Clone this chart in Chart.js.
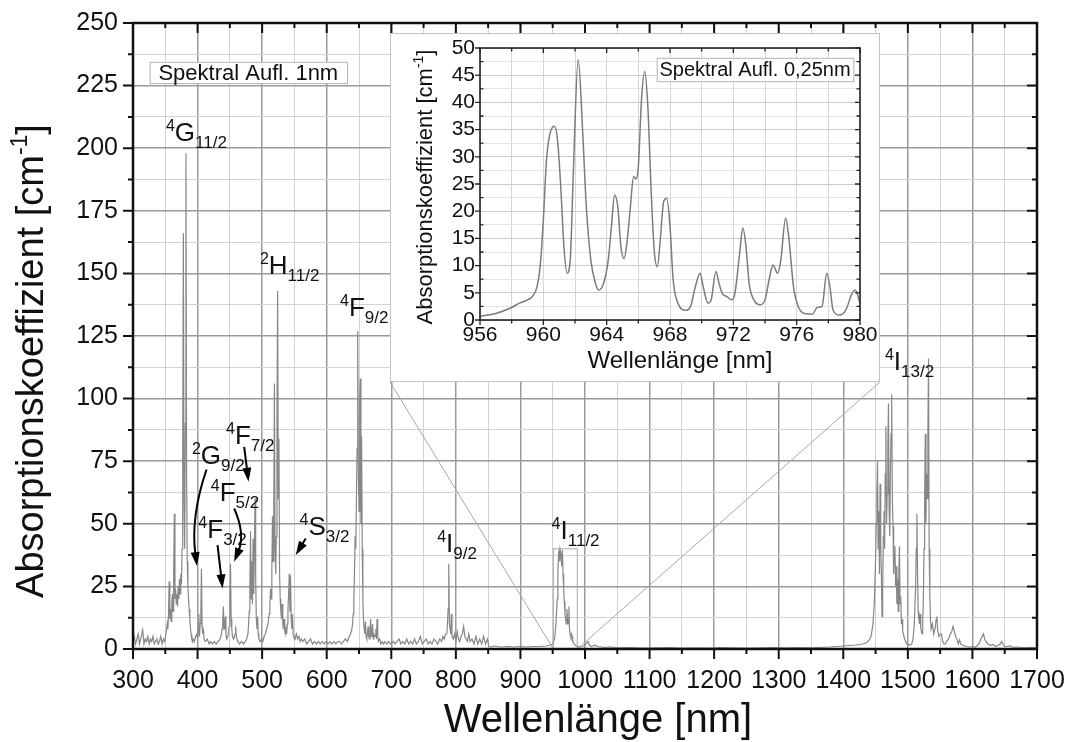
<!DOCTYPE html>
<html>
<head>
<meta charset="utf-8">
<script src="https://cdn.jsdelivr.net/npm/chart.js@4.4.0/dist/chart.umd.min.js"></script>
<style>
  html, body { margin: 0; padding: 0; background: #fff; }
  #wrap { position: relative; width: 1076px; height: 742px; }
  #main { position: absolute; left: 0; top: 0; }
  #insetBox { position: absolute; left: 390px; top: 33px; width: 490px; height: 349px;
              box-sizing: border-box; border: 1px solid #c4c4c4; background: #fff; }
  #inset { display: block; }
</style>
</head>
<body>
<div id="wrap">
  <canvas id="main" width="1076" height="742"></canvas>
  <div id="insetBox"><canvas id="inset" width="488" height="347"></canvas></div>
</div>
<script>
// spectrum at 1 nm resolution, split by region
const uvWl = [300,302,304,306,308,310,312,315,317,319,
  321,323,325,327,329,331,333,335,337,339,
  341,343,345,347,349,351,353,354,355,356,
  357,358,359,360,361,362,363,364,365,366,
  367,368,369,370,371,372,373,374,375,376,
  377,378,379,380,381,382,383,384,385,386,
  387,388,389,390,391,392,393,395,397,399];
const uvAbs = [3,5,2,4,6,2,4,7.6,2,4,
  3,5,2,4,3,5,2,3,4,2,
  3,5,2,4,3,6,10,8,14,27,
  12,16,11,18,22,15,30,54,20,24,
  18,22,17,25,20,28,22,30,26,40,
  80,166,60,40,90,198,70,35,25,20,
  16,12,8,6,4,3,4,3,5,6];

const visWl = [400,401,402,403,404,405,406,407,408,409,
  410,412,415,418,420,423,426,429,432,435,
  437,438,439,440,441,442,443,444,445,447,
  449,450,451,452,453,454,456,458,459,460,
  462,465,468,471,474,476,478,479,480,481,
  482,483,484,485,486,487,488,489,490,491,
  492,493,494,495,497,499,501,503,505,507,
  509,511,512,513,514,515,516,517,518,519,
  520,521,522,523,524,525,526,527,528,529,
  530,531,532,533,534,535,536,537,538,539,
  540,541,542,543,544,545,546,547,548,549,
  551,553,555,557,559,561,563,566,569,572,
  575,578,581,584,587,590,593,596,599,602,
  605,608,611,614,617,620,623,626,629,632,
  635,637,639,640,641,642,643,644,645,646,
  647,648,649,650,651,652,653,654,655,656,
  657,658,659,660,661,662,663,664,665,666,
  667,668,669,670,671,672,673,675,676,677,
  678,679,680,682,684,686,688,690,693,696];
const visAbs = [4,8,14,5,10,12,32,9,6,8,
  4,3,4,2,3,2,3,2,3,4,
  6,8,12,17,8,10,13,6,4,5,
  9,20,34,12,8,5,4,6,9,5,
  3,2,3,2,3,4,6,10,15,25,
  47,20,35,18,44,22,40,60,28,12,
  8,13,6,4,3,4,3,5,6,8,
  10,14,18,24,20,30,53,35,55,106,
  40,30,45,90,143,60,84,30,20,15,
  12,18,10,8,12,7,6,8,6,10,
  16,22,30,15,29,12,8,14,6,5,
  4,6,4,5,3,4,3,4,2,3,
  4,2,3,2,3,2,3,2,3,2,
  3,2,3,2,3,3,2,3,4,3,
  5,6,8,10,14,20,30,45,40,60,
  80,127,70,55,100,108,50,85,40,20,
  12,8,6,11,5,4,6,9,5,4,
  7,12,5,6,10,4,6,5,8,4,
  12,5,3,4,2,3,2,3,2,3];

const nirWl = [699,703,706,709,712,715,718,721,724,727,
  730,733,736,739,742,745,748,751,754,757,
  760,763,766,769,772,775,778,780,782,784,
  786,787,788,789,790,791,792,793,794,796,
  798,800,802,804,806,808,810,812,814,816,
  818,820,822,825,828,831,834,837,840,843,
  846,849,851,855,860,870,880,890,900,910,
  920,930,940,945,950,953,955,957,958,959,
  960,961,962,963,964,965,966,967,968,969,
  970,971,972,973,974,975,976,977,978,979,
  980,981,983,985,988,992,996,1000,1003,1005,
  1007,1010,1015,1020,1030,1040,1050,1070,1090,1110,
  1130,1150,1170,1190,1210,1230,1250,1270,1290,1310,
  1330,1350,1370,1380,1390];
const nirAbs = [2,3,2,3,4,2,3,2,4,2,
  3,2,4,2,3,5,2,3,4,2,
  3,2,4,3,2,4,3,5,4,6,
  6,10,16,34,10,8,6,14,5,4,
  6,3,7,4,3,5,6,9,5,4,
  3,6,3,4,2,5,2,4,2,5,
  2,4,1,0.8,1.2,0.8,1,0.8,1,0.8,
  1,1,1.2,1.5,2,4,10,20,30,38,
  39.5,35,39,37.5,33,39.5,30,24,19,14,
  12,10,16,12,10,17,8,6,5,6,
  5,3,2,1.5,1,0.8,1,1.5,2.5,3,
  1.5,1,1.5,1,0.6,0.8,0.5,0.6,0.4,0.5,
  0.6,0.4,0.5,0.4,0.6,0.5,0.4,0.5,0.6,0.5,
  0.6,0.5,0.7,0.8,1];

const irWl = [1400,1410,1420,1425,1430,1436,1440,1443,1446,1448,
  1450,1451,1452,1453,1454,1455,1456,1457,1458,1459,
  1460,1461,1462,1463,1464,1465,1466,1467,1468,1469,
  1470,1471,1472,1473,1474,1475,1476,1477,1478,1479,
  1480,1481,1482,1483,1484,1485,1486,1487,1488,1489,
  1490,1491,1492,1493,1495,1498,1500,1503,1506,1508,
  1510,1512,1513,1514,1515,1516,1517,1518,1519,1520,
  1522,1523,1524,1525,1526,1527,1528,1529,1530,1531,
  1532,1533,1534,1535,1536,1538,1540,1542,1544,1545,
  1546,1548,1550,1552,1554,1556,1558,1560,1563,1566,
  1568,1570,1572,1574,1576,1578,1580,1582,1585,1590,
  1595,1600,1605,1610,1613,1615,1617,1619,1621,1624,
  1628,1632,1636,1640,1643,1645,1647,1650,1655,1658,
  1662,1670,1680,1690,1700];
const irAbs = [1.2,1.4,1.6,1.8,2,2.5,3.6,5,10,18,
  35,50,62,75,40,55,30,66,42,30,
  13,22,45,55,40,70,89,50,62,80,
  98,56,45,72,86,101.6,60,49,30,38,
  41,25,33,18,28,15,30,41,18,21,
  10,12,7,6,4,2,2,1.5,2,4,
  10,25,40,54,30,15,12,10,14,8,
  6,10,20,40,60,86,50,70,60,85,
  116,40,22,12,8,10,6,8,12,13,
  8,5,6,6,3,2,2,3,4,6,
  7,9,7,5,4,2,3.6,2,1.5,1,
  0.8,1,0.8,2,4,5,6,4,3,2,
  1.5,1.8,1,1.5,2,3,2,1,1,1.3,
  0.7,0.8,0.5,0.7,0.5];

// 4I11/2 band at 0.25 nm resolution (inset)
const insetWl = [956,957,958,958.5,959,959.3,959.6,959.8,960,960.2,
  960.4,960.7,960.9,961.1,961.3,961.5,961.7,961.9,962.2,962.5,
  962.7,963,963.3,963.5,963.8,964.1,964.3,964.5,964.7,964.9,
  965.1,965.3,965.5,965.7,965.85,966,966.2,966.4,966.6,966.8,
  967,967.2,967.4,967.6,967.8,968,968.2,968.5,969,969.3,
  969.6,969.9,970.1,970.4,970.6,970.9,971.1,971.3,971.6,971.9,
  972.1,972.4,972.6,972.8,973,973.3,973.7,974,974.3,974.5,
  974.8,975,975.3,975.5,975.8,976.1,976.5,977,977.3,977.6,
  977.9,978.1,978.3,978.7,979.1,979.5,979.7,980];
const insetAbs = [0.7,1.2,2.3,3.1,3.7,4.3,6.1,9.8,18.4,29.4,
  34,35.6,33,24.5,13.5,8.6,11,27.6,47.9,33.7,
  21.5,11,6.7,5.5,6.7,11,17.2,23,20.9,13.5,
  11.3,14.7,20.9,26.4,25.9,28.2,40.5,45.7,39.3,24.5,
  12.9,9.8,15.3,21.8,22.4,17.2,7.4,3.1,1.8,2.5,
  6.1,8.6,6.1,3.1,3.7,8.9,6.7,4.9,4.3,3.7,
  4.9,12.3,16.9,13.5,6.7,3.7,2.8,3.7,8,10.1,
  8.6,11,18.7,15.3,6.1,2.5,1.2,1.1,2.3,2.5,
  8.6,6.1,1.8,0.9,1.8,4.9,5.5,3.1];

const mainWl = [...uvWl, ...visWl, ...nirWl, ...irWl];
const mainAbs = [...uvAbs, ...visAbs, ...nirAbs, ...irAbs];

const FONT = '"Liberation Sans", Arial, Helvetica, sans-serif';

// term labels: sup, letter, sub, anchored at (nm, value) = left end / baseline
const terms = [
  ['4', 'G', '11/2', 351, 203],
  ['2', 'H', '11/2', 496.6, 149.7],
  ['4', 'F', '9/2', 620.7, 133],
  ['4', 'F', '7/2', 444, 82],
  ['2', 'G', '9/2', 391.2, 74],
  ['4', 'F', '5/2', 420.5, 59.3],
  ['4', 'F', '3/2', 401.2, 44.2],
  ['4', 'S', '3/2', 558, 45.5],
  ['4', 'I', '9/2', 771, 38.8],
  ['4', 'I', '11/2', 948.3, 44],
  ['4', 'I', '13/2', 1464.5, 111.6]
];
// arrows: start, control (or null), tip, in (nm, value)
const arrows = [
  [[413.9, 71.7], [389, 53], [399, 33.1]],
  [[472.2, 80.7], null, [478.9, 66.8]],
  [[456.7, 56.1], [474, 46], [456.7, 34.8]],
  [[430.9, 41.5], null, [438.7, 24.2]],
  [[567.5, 44.1], null, [552, 37.5]]
];

function drawFrame(chart, o) {
  const {ctx, chartArea: a, scales: {x, y}} = chart;
  ctx.save();
  ctx.strokeStyle = o.color;
  ctx.lineWidth = o.tickWidth;
  ctx.beginPath();
  x.ticks.forEach(t => {
    const p = x.getPixelForValue(t.value);
    const major = Math.abs(t.value % o.xMajor) < 1e-6;
    const len = major ? o.major : o.minor;
    ctx.moveTo(p, a.bottom); ctx.lineTo(p, a.bottom + len);
    ctx.moveTo(p, a.top); ctx.lineTo(p, a.top + len);
  });
  y.ticks.forEach(t => {
    const p = y.getPixelForValue(t.value);
    const major = Math.abs(t.value % o.yMajor) < 1e-6;
    const len = major ? o.major : o.minor;
    const dir = major ? o.leftMajorDir : o.leftMinorDir;
    ctx.moveTo(a.left, p); ctx.lineTo(a.left - dir * len, p);
    ctx.moveTo(a.right, p); ctx.lineTo(a.right - len, p);
  });
  ctx.stroke();
  ctx.lineWidth = o.frameWidth;
  ctx.strokeRect(a.left, a.top, a.right - a.left, a.bottom - a.top);
  ctx.restore();
}

function drawVerticalTitle(ctx, cx, cy, main, sup, size, supSize, rise) {
  ctx.save();
  ctx.translate(cx, cy);
  ctx.rotate(-Math.PI / 2);
  ctx.fillStyle = '#111';
  ctx.textBaseline = 'alphabetic';
  ctx.textAlign = 'left';
  ctx.font = size + 'px ' + FONT;
  const w1 = ctx.measureText(main).width;
  const w3 = ctx.measureText(']').width;
  ctx.font = supSize + 'px ' + FONT;
  const w2 = ctx.measureText(sup).width;
  let s = -(w1 + w2 + w3) / 2;
  ctx.font = size + 'px ' + FONT;
  ctx.fillText(main, s, 0);
  ctx.font = supSize + 'px ' + FONT;
  ctx.fillText(sup, s + w1, -rise);
  ctx.font = size + 'px ' + FONT;
  ctx.fillText(']', s + w1 + w2, 0);
  ctx.restore();
}

function drawLegendBox(ctx, x, y, x0, x1, y0, y1, text, size) {
  const l = x.getPixelForValue(x0), r = x.getPixelForValue(x1);
  const t = y.getPixelForValue(y1), b = y.getPixelForValue(y0);
  ctx.save();
  ctx.fillStyle = '#fff';
  ctx.fillRect(l, t, r - l, b - t);
  ctx.strokeStyle = '#b4b4b4';
  ctx.lineWidth = 1;
  ctx.strokeRect(l + 0.5, t + 0.5, r - l, b - t);
  ctx.fillStyle = '#111';
  ctx.font = size + 'px ' + FONT;
  ctx.textAlign = 'center';
  ctx.textBaseline = 'middle';
  ctx.fillText(text, (l + r) / 2, (t + b) / 2 + 1);
  ctx.restore();
}

// keep the plot area fixed: ignore label overhang at the ends of the axes
function fixHorizontal(height) {
  return s => { s.height = height; s.paddingLeft = 0; s.paddingRight = 0; };
}
function fixVertical(width) {
  return s => { s.width = width; s.paddingTop = 0; s.paddingBottom = 0; };
}

const mainDecor = {
  id: 'mainDecor',
  afterDatasetsDraw(chart) {
    const {ctx, scales: {x, y}} = chart;
    // zoom box round the 4I11/2 band and the lines to the inset
    const bl = x.getPixelForValue(951), br = x.getPixelForValue(988);
    const bt = y.getPixelForValue(40), bb = y.getPixelForValue(0);
    ctx.save();
    ctx.strokeStyle = '#a8a8a8';
    ctx.lineWidth = 1;
    ctx.strokeRect(bl, bt, br - bl, bb - bt);
    ctx.beginPath();
    ctx.moveTo(bl, bb); ctx.lineTo(390, 382);
    ctx.moveTo(br, bb); ctx.lineTo(880, 382);
    ctx.stroke();
    ctx.restore();
    drawFrame(chart, {color: '#111', tickWidth: 2, frameWidth: 2.5, major: 10, minor: 5,
      xMajor: 100, yMajor: 25, leftMajorDir: 1, leftMinorDir: 1});
  },
  afterDraw(chart) {
    const {ctx, scales: {x, y}} = chart;
    ctx.save();
    ctx.fillStyle = '#111';
    ctx.textAlign = 'left';
    ctx.textBaseline = 'alphabetic';
    terms.forEach(([sup, main, sub, nm, v]) => {
      let px = x.getPixelForValue(nm);
      const py = y.getPixelForValue(v);
      ctx.font = '16px ' + FONT;
      ctx.fillText(sup, px, py - 10);
      px += ctx.measureText(sup).width;
      ctx.font = '26px ' + FONT;
      ctx.fillText(main, px, py);
      px += ctx.measureText(main).width;
      ctx.font = '17px ' + FONT;
      ctx.fillText(sub, px, py + 7);
    });
    ctx.strokeStyle = '#000';
    ctx.fillStyle = '#000';
    ctx.lineWidth = 2;
    arrows.forEach(([s, c, e]) => {
      const p0 = {x: x.getPixelForValue(s[0]), y: y.getPixelForValue(s[1])};
      const p1 = {x: x.getPixelForValue(e[0]), y: y.getPixelForValue(e[1])};
      const pc = c ? {x: x.getPixelForValue(c[0]), y: y.getPixelForValue(c[1])} : p0;
      const ang = Math.atan2(p1.y - pc.y, p1.x - pc.x);
      const head = 14, half = 4.5;
      const ex = p1.x - Math.cos(ang) * (head - 2), ey = p1.y - Math.sin(ang) * (head - 2);
      ctx.beginPath();
      ctx.moveTo(p0.x, p0.y);
      if (c) ctx.quadraticCurveTo(pc.x, pc.y, ex, ey); else ctx.lineTo(ex, ey);
      ctx.stroke();
      const bx = p1.x - Math.cos(ang) * head, by = p1.y - Math.sin(ang) * head;
      ctx.beginPath();
      ctx.moveTo(p1.x, p1.y);
      ctx.lineTo(bx + Math.sin(ang) * half, by - Math.cos(ang) * half);
      ctx.lineTo(bx - Math.sin(ang) * half, by + Math.cos(ang) * half);
      ctx.closePath();
      ctx.fill();
    });
    ctx.restore();
    drawLegendBox(ctx, x, y, 325.8, 631.4, 226, 234.5, 'Spektral Aufl. 1nm', 22);
    // axis titles
    ctx.save();
    ctx.fillStyle = '#111';
    ctx.font = '40px ' + FONT;
    ctx.textAlign = 'center';
    ctx.textBaseline = 'alphabetic';
    ctx.fillText('Wellenlänge [nm]', 598, 732);
    ctx.restore();
    drawVerticalTitle(ctx, 43, 361, 'Absorptionskoeffizient [cm', '-1', 38, 23, 16);
  }
};

new Chart('main', {
  type: 'line',
  data: {
    datasets: [{
      data: mainWl.map((w, i) => ({x: w, y: mainAbs[i]})),
      borderColor: '#878787',
      borderWidth: 1.2,
      pointRadius: 0,
      tension: 0
    }]
  },
  options: {
    responsive: false,
    animation: false,
    devicePixelRatio: 1,
    layout: {padding: {top: 23, right: 39, left: 0, bottom: 0}},
    plugins: {legend: {display: false}, tooltip: {enabled: false}},
    scales: {
      x: {
        type: 'linear', min: 300, max: 1700,
        ticks: {stepSize: 50, autoSkip: false, maxRotation: 0, padding: 17, color: '#111',
          font: {size: 25, family: FONT},
          callback: v => (v % 100 === 0 ? v : '')},
        grid: {drawTicks: false,
          color: c => (c.tick && c.tick.value % 100 === 0 ? '#9a9a9a' : '#d2d2d2'),
          lineWidth: c => (c.tick && c.tick.value % 100 === 0 ? 1.5 : 1)},
        border: {display: false},
        afterFit: fixHorizontal(93)
      },
      y: {
        min: 0, max: 250,
        ticks: {stepSize: 12.5, autoSkip: false, padding: 15, color: '#111', font: {size: 25, family: FONT},
          callback: v => (v % 25 === 0 ? v : '')},
        grid: {drawTicks: false,
          color: c => (c.tick && c.tick.value % 25 === 0 ? '#9a9a9a' : '#d2d2d2'),
          lineWidth: c => (c.tick && c.tick.value % 25 === 0 ? 1.5 : 1)},
        border: {display: false},
        afterFit: fixVertical(133)
      }
    }
  },
  plugins: [mainDecor]
});

const insetDecor = {
  id: 'insetDecor',
  afterDatasetsDraw(chart) {
    drawFrame(chart, {color: '#222', tickWidth: 1.3, frameWidth: 1.6, major: 5, minor: 3.5,
      xMajor: 4, yMajor: 5, leftMajorDir: 1, leftMinorDir: -1});
  },
  afterDraw(chart) {
    const {ctx, scales: {x, y}} = chart;
    drawLegendBox(ctx, x, y, 967.16, 979.58, 43.9, 48.2, 'Spektral Aufl. 0,25nm', 20);
    ctx.save();
    ctx.fillStyle = '#111';
    ctx.font = '24px ' + FONT;
    ctx.textAlign = 'center';
    ctx.textBaseline = 'alphabetic';
    ctx.fillText('Wellenlänge [nm]', 289, 334);
    ctx.restore();
    drawVerticalTitle(ctx, 41, 153, 'Absorptionskoeffizient [cm', '-1', 22, 14, 9);
  }
};

new Chart('inset', {
  type: 'line',
  data: {
    datasets: [{
      data: insetWl.map((w, i) => ({x: w, y: insetAbs[i]})),
      borderColor: '#7c7c7c',
      borderWidth: 1.5,
      pointRadius: 0,
      cubicInterpolationMode: 'monotone'
    }]
  },
  options: {
    responsive: false,
    animation: false,
    devicePixelRatio: 1,
    layout: {padding: {top: 14, right: 19, left: 0, bottom: 0}},
    plugins: {legend: {display: false}, tooltip: {enabled: false}},
    scales: {
      x: {
        type: 'linear', min: 956, max: 980,
        ticks: {stepSize: 2, autoSkip: false, maxRotation: 0, padding: 3, color: '#111',
          font: {size: 21, family: FONT},
          callback: v => (v % 4 === 0 ? v : '')},
        grid: {drawTicks: false, color: '#d6d6d6', lineWidth: 1},
        border: {display: false},
        afterFit: fixHorizontal(61)
      },
      y: {
        min: 0, max: 50,
        ticks: {stepSize: 2.5, autoSkip: false, padding: 5, color: '#111', font: {size: 21, family: FONT},
          callback: v => (v % 5 === 0 ? v : '')},
        grid: {drawTicks: false,
          color: c => (c.tick && c.tick.value % 5 === 0 ? '#cacaca' : '#e4e4e4'),
          lineWidth: 1},
        border: {display: false},
        afterFit: fixVertical(89)
      }
    }
  },
  plugins: [insetDecor]
});
</script>
</body>
</html>
